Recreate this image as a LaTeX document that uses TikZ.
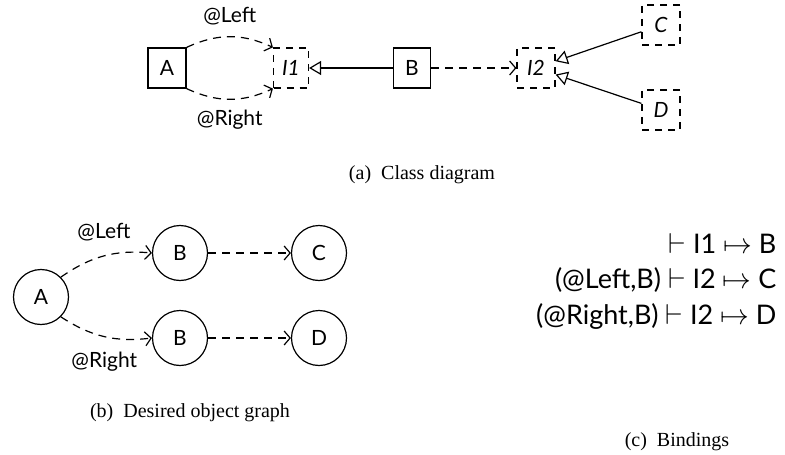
\documentclass[tikz,border=0pt]{standalone}
\usepackage{fontspec}
\setmainfont{Liberation Serif}
\newfontfamily\diagfont{Lato}
\usetikzlibrary{positioning, calc, arrows.meta}

\begin{document}
\begin{tikzpicture}[x=0.5pt,y=-0.5pt, line width=0.6pt, font=\diagfont\fontsize{10.5}{12}\selectfont, cls/.style={shape=rectangle,draw,minimum width=19pt,minimum height=20pt,inner sep=0pt}, iface/.style={cls, dash pattern=on 3.5pt off 3pt, font=\diagfont\itshape\fontsize{10.5}{12}\selectfont}, obj/.style={shape=circle,draw,minimum size=27.5pt,inner sep=0pt}, inherit/.style={-{Triangle[open, length=6pt, width=7pt]}}, uses/.style={-{Straight Barb[length=3pt, width=7pt]}, dash pattern=on 4pt off 3pt}, binding/.style={anchor=base east, inner sep=0pt, font=\diagfont\fontsize{13.5}{16}\selectfont}, caption/.style={font=\rmfamily}]
\path[use as bounding box] (0,0) rectangle (785,454);
% class diagram
\node[cls] (A) at (167,68) {A};
\node[iface, minimum width=17.5pt] (I1) at (291,68) {I1};
\node[cls, minimum width=18.5pt] (B) at (412,68) {B};
\node[iface] (I2) at (536,68) {I2};
\node[iface] (C) at (661,25) {C};
\node[iface] (D) at (661,110) {D};
\draw[uses] (A.north east) to[bend left=25] node[above=2pt] {@Left} (I1.north west);
\draw[uses] (A.south east) to[bend right=25] node[below=2pt] {@Right} (I1.south west);
\draw[inherit] (B) -- (I1);
\draw[uses] (B) -- (I2);
\foreach \impl in {C, D} {
	\draw[inherit] (\impl) -- (I2);
}
\node[caption] (cap a) at (422,175) {(a)\enspace Class diagram};
% object graph
\node[obj] (obj A) at (41,297) {A};
\foreach \row/\y/\leaf in {1/253/C, 2/338/D} {
	\node[obj] (obj B \row) at (180,\y) {B};
	\node[obj, right=69.5pt of obj B \row.center, anchor=center] (obj \leaf) {\leaf};
	\draw[uses] (obj B \row) -- (obj \leaf);
}
\draw[uses] (obj A.45) to[bend left=20] node[above=4pt] {@Left} (obj B 1.west);
\draw[uses] (obj A.-45) to[bend right=20] node[below=4pt] {@Right} (obj B 2.west);
\node[caption] (cap b) at (190,413) {(b)\enspace Desired object graph};
% bindings
\node[binding] (bind 1) at (777,253) {$\vdash$\ I1\ $\mapsto$\ B};
\node[binding] (bind 2) at (777,288) {(@Left,B)\ $\vdash$\ I2\ $\mapsto$\ C};
\node[binding] (bind 3) at (777,324) {(@Right,B)\ $\vdash$\ I2\ $\mapsto$\ D};
\node[caption] (cap c) at (677,442) {(c)\enspace Bindings};
\end{tikzpicture}
\end{document}
